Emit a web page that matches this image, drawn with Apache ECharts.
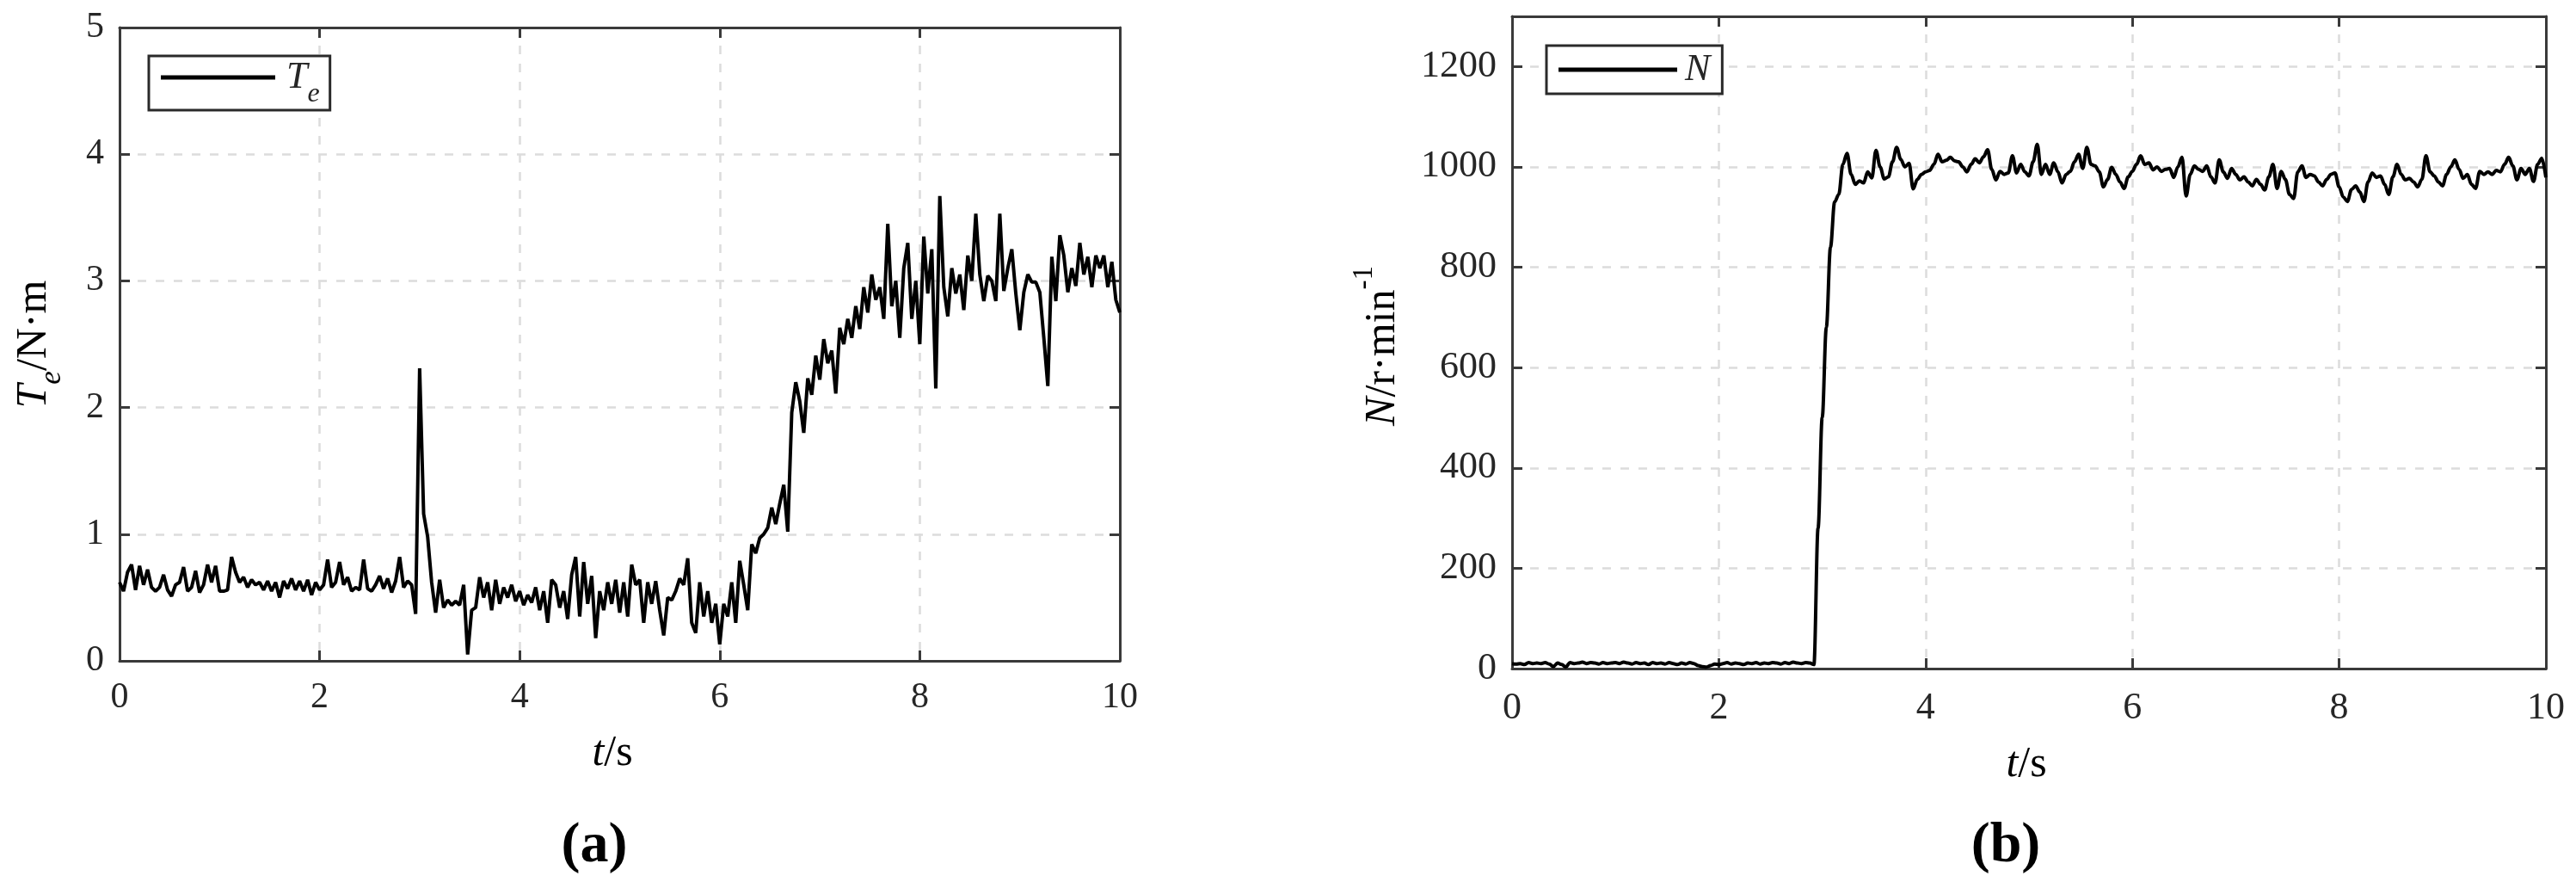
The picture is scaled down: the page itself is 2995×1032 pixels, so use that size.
<!DOCTYPE html>
<html><head><meta charset="utf-8">
<script src="https://cdn.jsdelivr.net/npm/echarts/dist/echarts.min.js"></script>
<style>html,body{margin:0;padding:0;background:#fff}#c{width:2995px;height:1032px}</style>
</head><body><div id="c"></div>
<script>
// sampling interval of both records (s)
const dt = 0.04;
// (a) electromagnetic torque Te (N·m), one row per second
const torqueValues = [
  0.62,0.55,0.70,0.76,0.56,0.75,0.60,0.72,0.58,0.55,0.58,0.68,0.56,0.51,0.60,0.62,0.74,0.55,0.58,0.71,0.54,0.60,0.76,0.62,0.75,
  0.55,0.55,0.56,0.82,0.70,0.62,0.66,0.58,0.64,0.60,0.62,0.56,0.63,0.55,0.62,0.50,0.63,0.57,0.65,0.56,0.63,0.55,0.64,0.52,0.62,
  0.56,0.60,0.80,0.58,0.62,0.78,0.60,0.66,0.55,0.58,0.56,0.80,0.57,0.55,0.60,0.67,0.57,0.65,0.54,0.63,0.82,0.58,0.63,0.60,0.37,
  2.31,1.16,0.98,0.62,0.38,0.64,0.42,0.48,0.44,0.47,0.44,0.60,0.05,0.40,0.42,0.66,0.50,0.62,0.40,0.64,0.45,0.58,0.50,0.60,0.47,
  0.55,0.44,0.52,0.46,0.58,0.40,0.55,0.30,0.64,0.60,0.42,0.55,0.33,0.68,0.82,0.35,0.78,0.45,0.67,0.18,0.55,0.40,0.62,0.45,0.64,
  0.38,0.62,0.35,0.76,0.60,0.64,0.30,0.62,0.45,0.63,0.40,0.20,0.50,0.48,0.55,0.65,0.60,0.81,0.30,0.22,0.62,0.35,0.55,0.30,0.45,
  0.13,0.45,0.35,0.62,0.30,0.79,0.60,0.40,0.92,0.85,0.97,1.00,1.05,1.21,1.08,1.24,1.39,1.02,1.96,2.20,2.05,1.80,2.23,2.10,2.41,
  2.22,2.54,2.35,2.45,2.11,2.63,2.50,2.70,2.55,2.80,2.62,2.95,2.75,3.05,2.85,2.95,2.70,3.45,2.80,3.00,2.55,3.10,3.30,2.70,3.00,
  2.50,3.35,2.90,3.25,2.15,3.67,2.95,2.72,3.10,2.90,3.05,2.77,3.20,3.00,3.53,3.05,2.84,3.04,3.00,2.84,3.53,2.92,3.10,3.25,2.90,
  2.61,2.91,3.05,2.99,2.99,2.91,2.55,2.17,3.19,2.84,3.36,3.20,2.91,3.10,2.96,3.30,3.05,3.19,2.95,3.20,3.10,3.20,2.95,3.15,2.85,
  2.75
];
// (b) rotor speed N (r/min), one row per second
const speedValues = [
  10,9,10,8,12,10,11,10,12,9,4,11,8,3,12,10,11,13,10,12,11,9,12,10,11,
  12,10,13,11,9,12,10,11,8,12,10,11,9,12,10,8,11,9,12,10,6,4,3,6,9,
  8,10,12,9,11,10,8,11,10,12,9,11,10,12,11,9,12,10,13,11,10,12,11,8,280,
  500,680,840,930,945,1005,1027,985,965,972,968,990,978,1033,1000,976,980,1010,1039,1015,1000,1007,956,975,985,
  990,993,1005,1025,1010,1013,1019,1012,1010,1000,990,1005,1016,1008,1020,1034,995,974,991,985,988,1022,988,1005,990,
  982,1010,1045,985,1005,985,1008,990,968,985,991,1010,1025,997,1039,1005,1002,990,960,975,999,985,970,957,980,
  991,1005,1022,1005,1008,994,1000,991,995,997,979,1000,1019,942,985,1002,995,991,1002,980,968,1014,990,977,997,
  985,974,980,970,962,975,965,954,980,1005,957,991,975,945,937,990,1002,979,985,982,970,962,975,985,988,
  960,940,931,955,962,950,931,970,988,979,982,965,945,980,1005,985,974,977,970,960,975,1022,990,982,970,
  962,985,1000,1014,995,977,985,965,957,991,985,990,985,993,990,1005,1019,1002,974,997,985,997,971,1005,1017,
  979
];
const timeTicks = [0, 2, 4, 6, 8, 10];
const torqueTicks = [0, 1, 2, 3, 4, 5];
const speedTicks = [0, 200, 400, 600, 800, 1000, 1200];
const speedMax = 1300;

const SERIF = '"Liberation Serif", "Times New Roman", Times, serif';
const AX = '#3a3a3a';
const TXT = '#262626';
const GRID = '#dcdcdc';

const torqueData = torqueValues.map((v, i) => [+(i * dt).toFixed(2), v]);
const speedData = speedValues.map((v, i) => [+(i * dt).toFixed(2), v]);

function xAxes(grid, fs, margin) {
  const step = timeTicks[1] - timeTicks[0];
  const base = {
    type: 'value', gridIndex: grid, min: timeTicks[0], max: timeTicks[timeTicks.length - 1], interval: step,
    axisLine: { show: true, onZero: false, lineStyle: { color: AX, width: 3 } },
    axisTick: { show: true, inside: true, length: 12, lineStyle: { color: AX, width: 3 } }
  };
  return [
    Object.assign({}, base, {
      position: 'bottom',
      axisLabel: { show: true, fontFamily: SERIF, fontSize: fs, color: TXT, margin: margin, formatter: v => String(v) },
      splitLine: { show: true, lineStyle: { color: GRID, width: 2.5, type: [10, 11] } }
    }),
    Object.assign({}, base, { position: 'top', axisLabel: { show: false }, splitLine: { show: false } })
  ];
}
function yAxes(grid, ticks, max, fs, margin) {
  const step = ticks[1] - ticks[0];
  const base = {
    type: 'value', gridIndex: grid, min: ticks[0], max: max, interval: step,
    axisLine: { show: true, onZero: false, lineStyle: { color: AX, width: 3 } },
    axisTick: { show: true, inside: true, length: 12, lineStyle: { color: AX, width: 3 } }
  };
  return [
    Object.assign({}, base, {
      position: 'left',
      axisLabel: { show: true, fontFamily: SERIF, fontSize: fs, color: TXT, margin: margin,
                   showMaxLabel: max === ticks[ticks.length - 1], formatter: v => String(v) },
      splitLine: { show: true, lineStyle: { color: GRID, width: 2.5, type: [10, 11] } }
    }),
    Object.assign({}, base, { position: 'right', axisLabel: { show: false }, splitLine: { show: false } })
  ];
}

const richMain = { fontFamily: SERIF, fontSize: 50, color: TXT, lineHeight: 76 };
const axisTitleRich = {
  i: Object.assign({}, richMain, { fontStyle: 'italic' }),
  r: Object.assign({}, richMain),
  sub: { fontFamily: SERIF, fontSize: 35, fontStyle: 'italic', color: TXT, lineHeight: 32, verticalAlign: 'bottom' },
  sup: { fontFamily: SERIF, fontSize: 33, color: TXT, lineHeight: 30, verticalAlign: 'top' }
};

const chart = echarts.init(document.getElementById('c'), null, { renderer: 'canvas' });
chart.setOption({
  backgroundColor: '#ffffff',
  animation: false,
  grid: [
    { left: 139, top: 32, width: 1163, height: 736 },
    { left: 1758, top: 19, width: 1202, height: 758 }
  ],
  xAxis: [].concat(xAxes(0, 42, 22), xAxes(1, 44, 24)),
  yAxis: [].concat(yAxes(0, torqueTicks, torqueTicks[torqueTicks.length - 1], 42, 18), yAxes(1, speedTicks, speedMax, 44, 18)),
  legend: [
    {
      data: ['T_e'], left: 173, top: 65, padding: [3, 12, 2, 14],
      icon: 'rect', itemWidth: 133, itemHeight: 5, selectedMode: false,
      borderColor: '#2a2a2a', borderWidth: 3, backgroundColor: '#fff',
      formatter: () => '{i|T}{sub|e}',
      textStyle: { rich: {
        i: { fontFamily: SERIF, fontSize: 44, fontStyle: 'italic', color: TXT, lineHeight: 72, padding: [0, 0, 0, 8] },
        sub: { fontFamily: SERIF, fontSize: 32, fontStyle: 'italic', color: TXT, lineHeight: 30, verticalAlign: 'bottom' }
      } }
    },
    {
      data: ['N'], left: 1798, top: 53, padding: [6, 14, 6, 14],
      icon: 'rect', itemWidth: 138, itemHeight: 5, selectedMode: false,
      borderColor: '#2a2a2a', borderWidth: 3, backgroundColor: '#fff',
      formatter: () => '{i|N}',
      textStyle: { rich: {
        i: { fontFamily: SERIF, fontSize: 44, fontStyle: 'italic', color: TXT, lineHeight: 50, padding: [0, 0, 0, 4] }
      } }
    }
  ],
  series: [
    { name: 'T_e', type: 'line', xAxisIndex: 0, yAxisIndex: 0, data: torqueData, showSymbol: false, symbol: 'none',
      lineStyle: { color: '#000', width: 4 }, itemStyle: { color: '#000' }, z: 3 },
    { name: 'N', type: 'line', xAxisIndex: 2, yAxisIndex: 2, data: speedData, showSymbol: false, symbol: 'none',
      smooth: 0.35, smoothMonotone: 'x',
      lineStyle: { color: '#000', width: 4 }, itemStyle: { color: '#000' }, z: 3 }
  ],
  graphic: [
    { type: 'text', x: 712, y: 876, style: { text: '{i|t}{r|/s}', rich: axisTitleRich, align: 'center', verticalAlign: 'middle' } },
    { type: 'text', x: 2356, y: 889, style: { text: '{i|t}{r|/s}', rich: axisTitleRich, align: 'center', verticalAlign: 'middle' } },
    { type: 'text', x: 40, y: 400, rotation: Math.PI / 2,
      style: { text: '{i|T}{sub|e}{r|/N·m}', rich: axisTitleRich, align: 'center', verticalAlign: 'middle' } },
    { type: 'text', x: 1608, y: 402, rotation: Math.PI / 2,
      style: { text: '{i|N}{r|/r·min}{sup|-1}', rich: axisTitleRich, align: 'center', verticalAlign: 'middle' } },
    { type: 'text', x: 691, y: 984, style: { text: '(a)', fontFamily: SERIF, fontSize: 66, fontWeight: 'bold', fill: '#000', align: 'center', verticalAlign: 'middle' } },
    { type: 'text', x: 2332, y: 984, style: { text: '(b)', fontFamily: SERIF, fontSize: 66, fontWeight: 'bold', fill: '#000', align: 'center', verticalAlign: 'middle' } }
  ]
});
</script></body></html>
